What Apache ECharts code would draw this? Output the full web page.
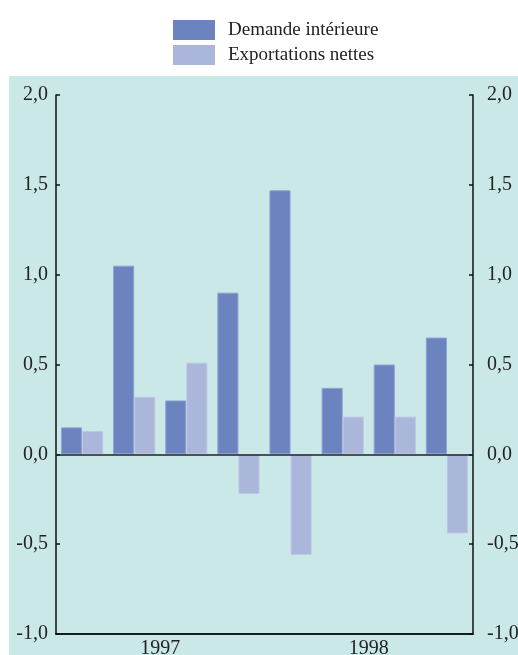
<!DOCTYPE html>
<html>
<head>
<meta charset="utf-8">
<script src="https://cdn.jsdelivr.net/npm/echarts@6/dist/echarts.min.js"></script>
<style>
html,body{margin:0;padding:0;background:#fff;}
#c{width:518px;height:655px;}
</style>
</head>
<body>
<div id="c"></div>
<script>
const quarters = ['1997 T1','1997 T2','1997 T3','1997 T4','1998 T1','1998 T2','1998 T3','1998 T4'];
const years = ['1997','1998'];
const demandeInterieure = [0.15, 1.05, 0.30, 0.90, 1.47, 0.37, 0.50, 0.65];
const exportationsNettes = [0.13, 0.32, 0.51, -0.22, -0.56, 0.21, 0.21, -0.44];
const yTicks = [-1.0, -0.5, 0.0, 0.5, 1.0, 1.5, 2.0];

const FONT = '"Liberation Serif", "Times New Roman", serif';
const fmt = v => v.toFixed(1).replace('.', ',');

const chart = echarts.init(document.getElementById('c'), null, {renderer: 'canvas'});
const yBase = {
  type: 'value', min: yTicks[0], max: yTicks[yTicks.length - 1], interval: 0.5,
  splitLine: {show: false},
  axisLine: {show: true, lineStyle: {color: '#111', width: 1.5}},
  axisTick: {show: true, inside: true, length: 4, lineStyle: {color: '#111', width: 1.5}},
  axisLabel: {formatter: fmt, fontFamily: FONT, fontSize: 20, color: '#222'}
};
chart.setOption({
  animation: false,
  backgroundColor: '#fff',
  graphic: [{
    type: 'rect', z: -10, silent: true,
    shape: {x: 9, y: 76, width: 509, height: 579},
    style: {fill: '#cbe8e8'}
  }],
  legend: {
    orient: 'vertical', left: 168, top: 15,
    itemWidth: 42, itemHeight: 20, itemGap: 5,
    icon: 'rect',
    itemStyle: {borderWidth: 0},
    textStyle: {fontFamily: FONT, fontSize: 19, color: '#222', padding: [0, 0, 0, 8]},
    data: ['Demande intérieure', 'Exportations nettes']
  },
  grid: {left: 56, right: 45, top: 95, bottom: 21, containLabel: false, outerBoundsMode: 'none'},
  xAxis: [{
    type: 'category', data: quarters, boundaryGap: true,
    axisLine: {onZero: false, lineStyle: {color: '#111', width: 1.5}},
    axisTick: {inside: true, length: 4, interval: 0, lineStyle: {color: '#111', width: 1.5}},
    axisLabel: {show: false}
  }, {
    type: 'category', data: years, boundaryGap: true, position: 'bottom',
    axisLine: {onZero: false, lineStyle: {color: '#111', width: 1.5}},
    axisTick: {inside: true, length: 10, interval: 0, lineStyle: {color: '#111', width: 1.5}},
    axisLabel: {fontFamily: FONT, fontSize: 20, color: '#222', margin: 5}
  }],
  yAxis: [
    Object.assign({}, yBase, {position: 'left', axisLabel: Object.assign({}, yBase.axisLabel, {margin: 8})}),
    Object.assign({}, yBase, {position: 'right', axisLabel: Object.assign({}, yBase.axisLabel, {margin: 14})})
  ],
  series: [{
    name: 'Demande intérieure', type: 'bar', xAxisIndex: 0, yAxisIndex: 0,
    data: demandeInterieure,
    barGap: '0%', barCategoryGap: '19%',
    itemStyle: {color: '#6b84c0', borderColor: '#8fa3d3', borderWidth: 1},
    markLine: {
      silent: true, symbol: 'none', label: {show: false},
      lineStyle: {color: '#222', width: 1.5, type: 'solid'},
      data: [{yAxis: 0}]
    }
  }, {
    name: 'Exportations nettes', type: 'bar', xAxisIndex: 0, yAxisIndex: 0,
    data: exportationsNettes,
    barGap: '0%', barCategoryGap: '19%',
    itemStyle: {color: '#aab7db', borderColor: '#bcc8e3', borderWidth: 1}
  }]
});
</script>
</body>
</html>
